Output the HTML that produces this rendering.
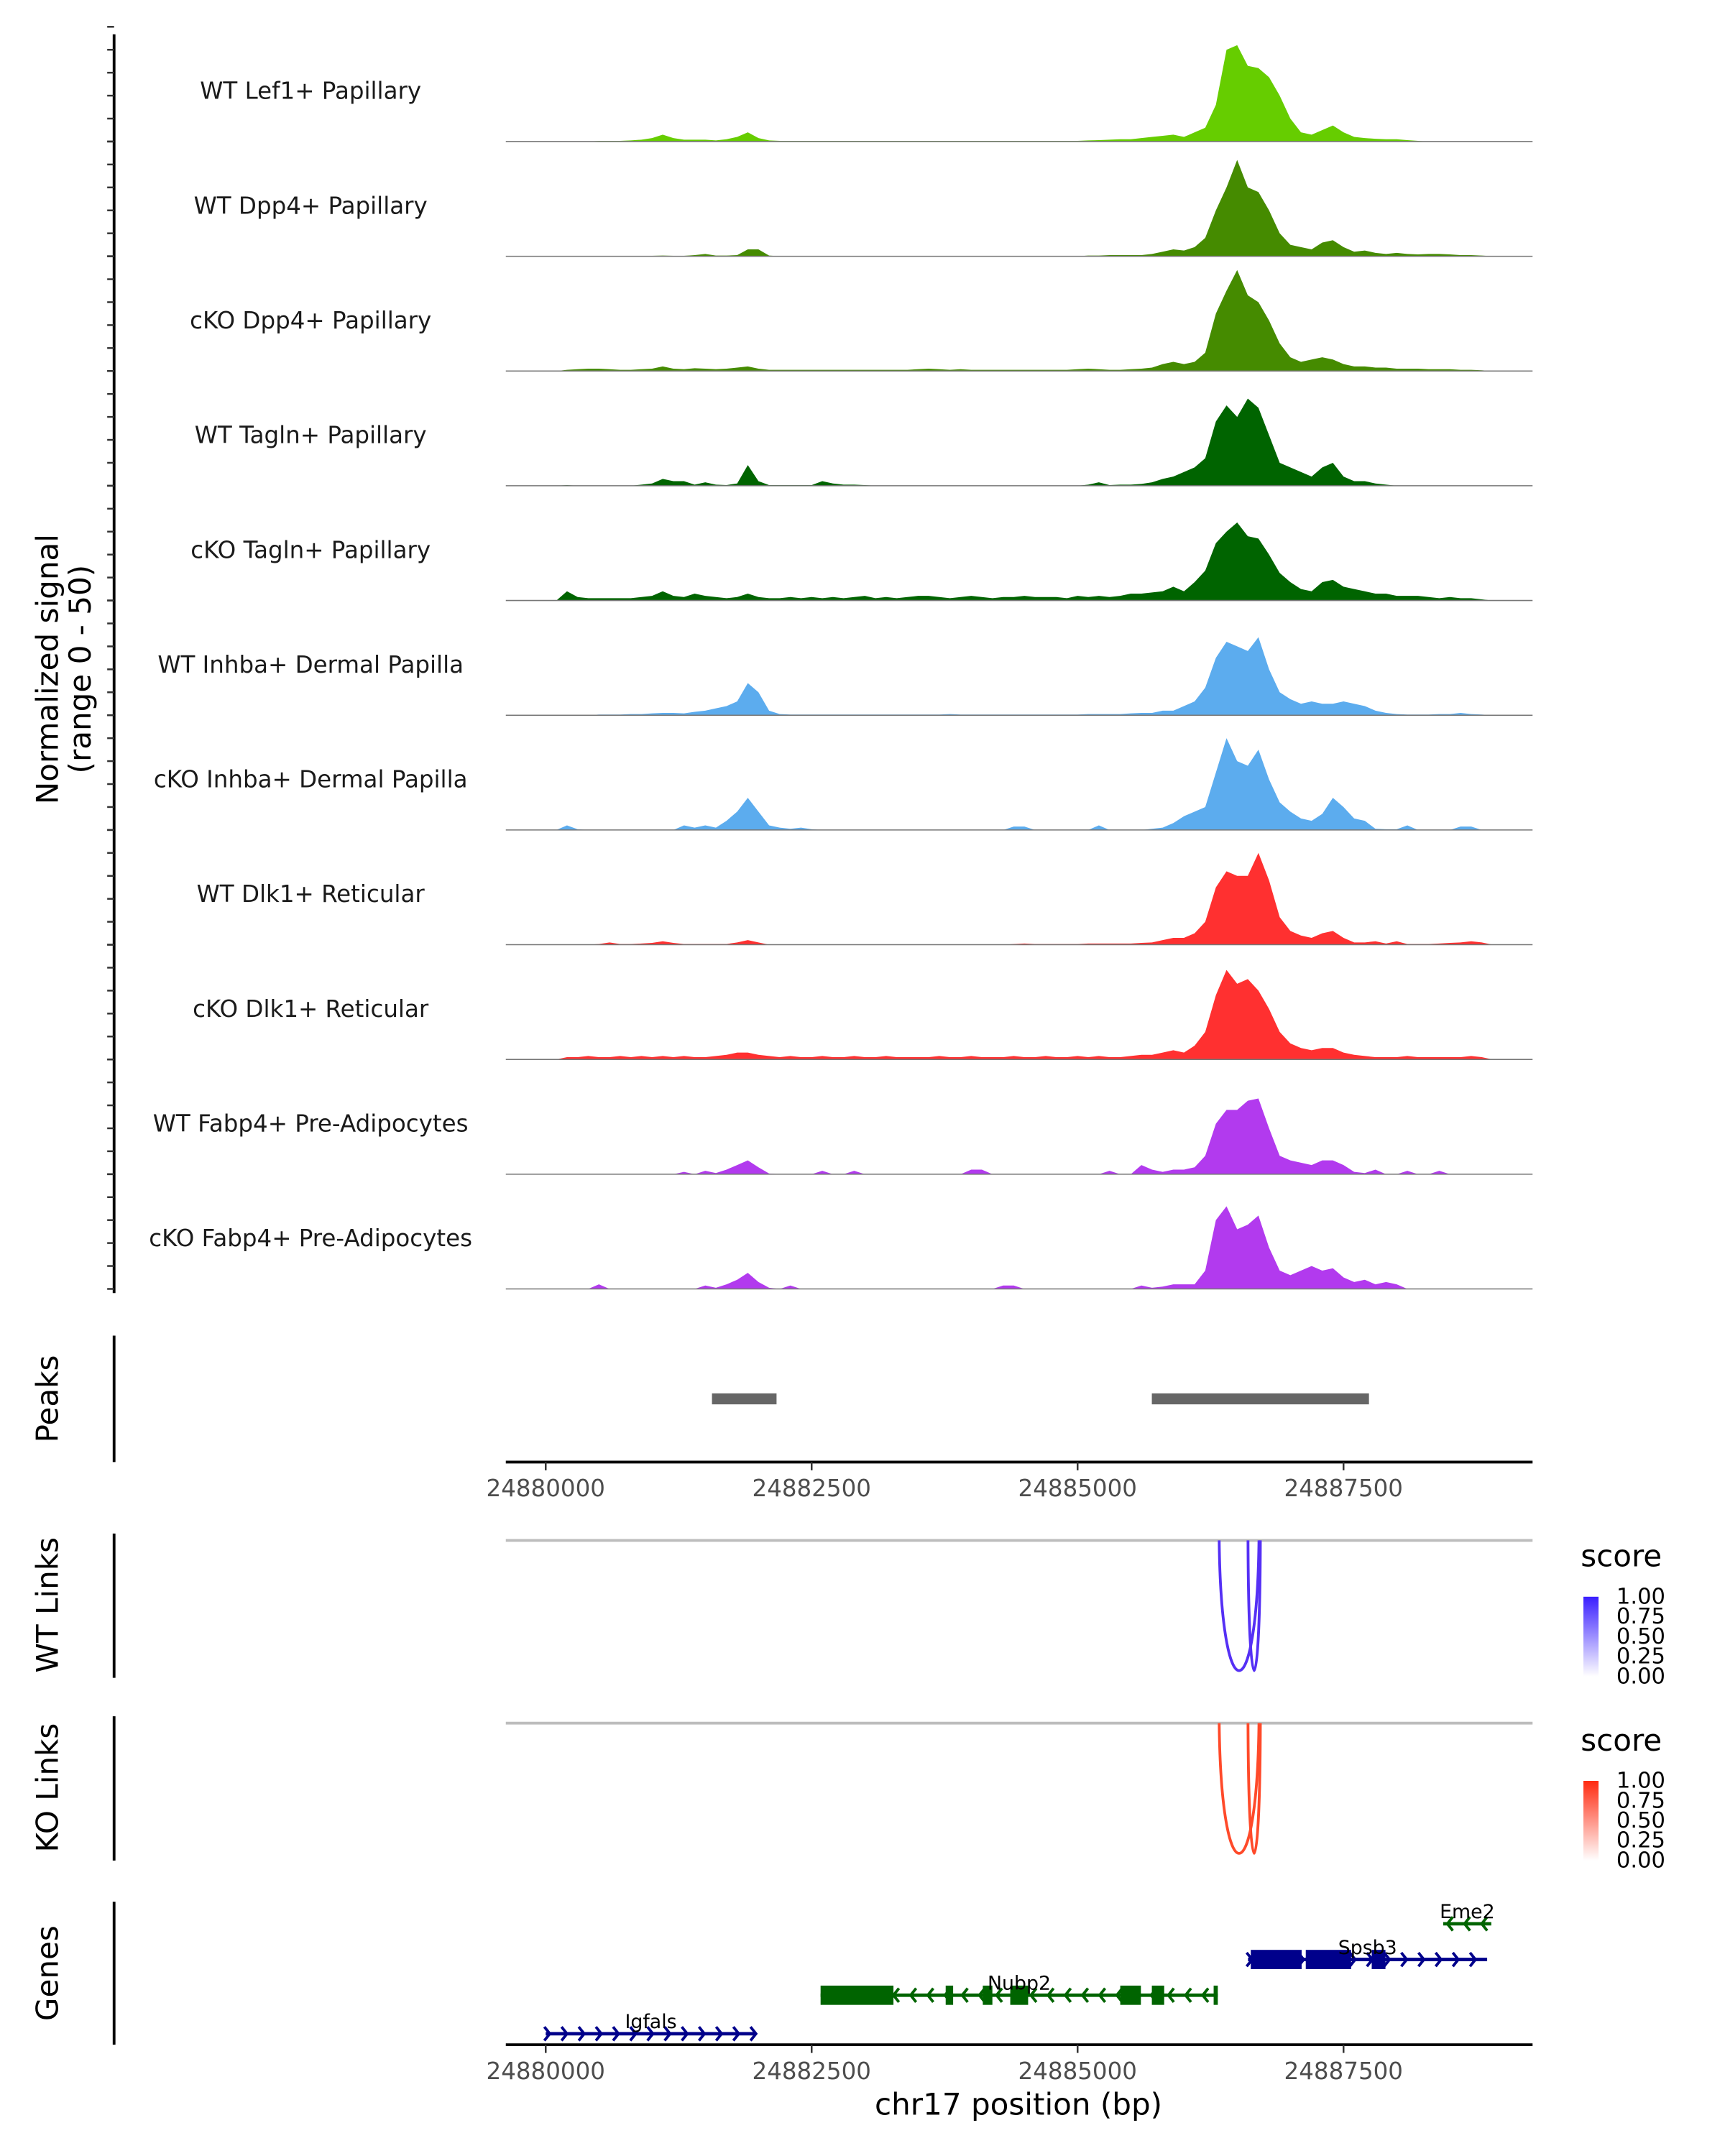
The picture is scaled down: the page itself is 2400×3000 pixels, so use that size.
<!DOCTYPE html>
<html><head><meta charset="utf-8"><style>
html,body{margin:0;padding:0;background:#fff;}
svg{display:block;}
text{font-family:"DejaVu Sans","Liberation Sans",sans-serif;}
</style></head><body>
<svg id="chart" xmlns="http://www.w3.org/2000/svg" width="2400" height="3000" viewBox="0 0 1255 1569" preserveAspectRatio="none">
<g id="g"></g>
</svg>
<script>
const tracks = ["WT Lef1+ Papillary","WT Dpp4+ Papillary","cKO Dpp4+ Papillary","WT Tagln+ Papillary","cKO Tagln+ Papillary","WT Inhba+ Dermal Papilla","cKO Inhba+ Dermal Papilla","WT Dlk1+ Reticular","cKO Dlk1+ Reticular","WT Fabp4+ Pre-Adipocytes","cKO Fabp4+ Pre-Adipocytes"];
const trackColors = ["#66CD00","#458B00","#458B00","#006400","#006400","#5CACEE","#5CACEE","#FF3030","#FF3030","#B23AEE","#B23AEE"];
const binStart = 24879800, binSize = 100;
const lef1 = [0,0,0,0,0,0,0,0.3,0.3,0.3, 0.5,0.8,1.5,3,1.5,0.8,0.8,0.8,0.5,1, 2,4,1.5,0.5,0.3,0.3,0.3,0.3,0.3,0.3, 0.3,0.3,0.3,0.3,0.3,0.3,0.3,0.3,0.3,0.3, 0.3,0.3,0.3,0.3,0.3,0.3,0.3,0.3,0.3,0.3, 0.3,0.3,0.3,0.5,0.6,0.8,1,1,1.5,2, 2.5,3,2,4,6,16,40,42,33,32, 28,20,10,4,3,5,7,4,2,1.5, 1.2,1,1,0.6,0.3,0,0,0,0,0, 0,0,0,0,0,0];
const dpp4WT = [0,0,0,0,0,0,0,0,0,0, 0,0,0.2,0.3,0.2,0.2,0.5,1,0.3,0.3, 0.5,3,3,0.3,0,0,0,0,0,0, 0,0,0,0,0,0,0,0,0,0, 0,0,0,0,0,0,0,0,0,0, 0,0,0,0.3,0.3,0.5,0.5,0.5,0.5,1, 2,3,2.5,4,8,20,30,42,30,28, 20,10,5,4,3,6,7,4,2,2.5, 1.5,1,1.5,1,0.8,1,1,0.8,0.5,0.5, 0.3,0,0,0,0,0];
const dpp4KO = [0,0,0,0,0.5,0.8,1,1,0.8,0.5, 0.5,0.8,1,2,1,0.8,1.2,1,0.8,1, 1.5,2,1,0.5,0.5,0.5,0.5,0.5,0.5,0.5, 0.5,0.5,0.5,0.5,0.5,0.5,0.5,0.8,1,0.8, 0.5,0.8,0.5,0.5,0.5,0.5,0.5,0.5,0.5,0.5, 0.5,0.5,0.8,1,0.8,0.5,0.5,0.8,1,1.5, 3,4,3,4,8,25,35,44,33,30, 22,12,6,4,5,6,5,3,2,2, 1.5,1.5,1,1,1,0.8,0.8,0.8,0.5,0.5, 0.3,0,0,0,0,0];
const taglnWT = [0,0,0,0,0.3,0,0,0,0,0, 0,0.5,1,3,2,2,0.5,1.5,0.5,0.3, 1,9,2,0.3,0.3,0.3,0.3,0.3,2,1, 0.5,0.5,0.3,0,0,0,0,0,0,0, 0,0,0,0,0,0,0,0,0,0, 0,0,0,0.5,1.5,0.3,0.5,0.5,0.8,1.5, 3,4,6,8,12,28,35,30,38,34, 22,10,8,6,4,8,10,4,2,2, 1,0.5,0,0,0,0,0,0,0,0, 0,0,0,0,0,0];
const taglnKO = [0,0,0,0,4,1.5,1,1,1,1, 1,1.5,2,4,2,1.5,3,2,1.5,1, 1.5,3,1.5,1,1,1.5,1,1.5,1,1.5, 1,1.5,2,1,1.5,1,1.5,2,2,1.5, 1,1.5,2,1.5,1,1.5,1.5,2,1.5,1.5, 1.5,1,2,1.5,2,1.5,2,3,3,3.5, 4,6,4,8,13,25,30,34,28,27, 20,12,8,5,4,8,9,6,5,4, 3,3,2,2,2,1.5,1,1.5,1,1, 0.5,0,0,0,0,0];
const inhbaWT = [0,0,0,0,0,0,0,0.3,0.3,0.3, 0.5,0.5,0.8,1,1,0.8,1.5,2,3,4, 6,14,10,2,0.5,0.3,0.3,0.3,0.3,0.3, 0.3,0.3,0.3,0.3,0.3,0.3,0.3,0.3,0.3,0.3, 0.5,0.3,0.3,0.3,0.3,0.3,0.3,0.3,0.3,0.3, 0.3,0.3,0.3,0.5,0.5,0.5,0.5,0.8,1,1, 2,2,4,6,12,25,32,30,28,34, 20,10,7,5,6,5,5,6,5,4, 2,1,0.5,0.3,0.3,0.3,0.5,0.5,1,0.5, 0.3,0,0,0,0,0];
const inhbaKO = [0,0,0,0,2,0.3,0,0,0,0, 0,0,0,0,0,2,1,2,1,4, 8,14,8,2,1,0.5,1,0.3,0,0, 0,0,0,0,0,0,0,0,0,0, 0,0,0,0,0,0,1.5,1.5,0,0, 0,0,0,0,2,0,0,0,0,0.5, 1,3,6,8,10,25,40,30,28,35, 22,12,8,5,4,7,14,10,5,4, 0.5,0.3,0.3,2,0,0,0,0,1.5,1.5, 0,0,0,0,0,0];
const dlk1WT = [0,0,0,0,0,0,0,0.3,1,0.3, 0.3,0.5,0.8,1.5,0.8,0.3,0.3,0.3,0.3,0.3, 1,2,1,0,0,0,0,0,0,0, 0,0,0,0,0,0,0,0,0,0, 0,0,0,0,0,0,0.3,0.5,0.3,0.3, 0.3,0.3,0.3,0.5,0.5,0.5,0.5,0.5,0.8,1, 2,3,3,5,10,25,32,30,30,40, 28,12,6,4,3,5,6,3,1,1, 1.5,0.5,1.5,0.3,0.3,0.3,0.5,0.8,1,1.5, 1,0,0,0,0,0];
const dlk1KO = [0,0,0,0,1,1,1.5,1,1,1.5, 1,1.5,1,1.5,1,1.5,1,1,1.5,2, 3,3,2,1.5,1,1.5,1,1,1.5,1, 1,1.5,1,1,1.5,1,1,1,1,1.5, 1,1,1.5,1,1,1,1.5,1,1,1.5, 1,1,1.5,1,1.5,1,1,1.5,2,2, 3,4,3,6,12,28,39,33,35,30, 22,12,7,5,4,5,5,3,2,1.5, 1,1,1,1.5,1,1,1,1,1,1.5, 1,0,0,0,0,0];
const fabp4WT = [0,0,0,0,0,0,0,0,0,0, 0,0,0,0,0,1,0,1.5,0.5,2, 4,6,3,0.3,0,0,0,0,1.5,0, 0,1.5,0,0,0,0,0,0,0,0, 0,0,2,2,0,0,0,0,0,0, 0,0,0,0,0,1.5,0,0,4,2, 1,2,2,3,8,22,28,28,32,33, 20,8,6,5,4,6,6,4,1,0.5, 2,0,0,1.5,0,0,1.5,0,0,0, 0,0,0,0,0,0];
const fabp4KO = [0,0,0,0,0,0,0,2,0,0, 0,0,0,0,0,0,0,1.5,0.5,2, 4,7,3,0.5,0,1.5,0,0,0,0, 0,0,0,0,0,0,0,0,0,0, 0,0,0,0,0,1.5,1.5,0,0,0, 0,0,0,0,0,0,0,0,1.5,0.5, 1,2,2,2,8,30,36,26,28,32, 18,8,6,8,10,8,9,5,3,4, 2,3,2,0,0,0,0,0,0,0, 0,0,0,0,0,0];
const signals = [lef1,dpp4WT,dpp4KO,taglnWT,taglnKO,inhbaWT,inhbaKO,dlk1WT,dlk1KO,fabp4WT,fabp4KO];
const xTicks = [24880000,24882500,24885000,24887500];
const peakStarts = [24881563,24885698];
const peakEnds = [24882170,24887739];
const linkStarts = [24886331,24886602];
const linkEnds = [24886705,24886718];
const linkScores = [1.0,1.0];
const geneNames = ["Igfals","Nubp2","Spsb3","Eme2"];
const geneStarts = [24880000,24882584,24886602,24888437];
const geneEnds = [24881977,24886318,24888850,24888889];
const geneStrands = [1,-1,1,-1];
const geneColors = ["#00008B","#006400","#00008B","#006400"];
const geneRows = [0,1,2,3];
const exonGene = [1,1,1,1,1,1,1,2,2,2];
const exonStarts = [24882584,24883760,24884109,24884367,24885401,24885698,24886279,24886628,24887145,24887765];
const exonEnds = [24883269,24883830,24884199,24884535,24885595,24885814,24886318,24887106,24887571,24887894];
const legendTicks = ["1.00","0.75","0.50","0.25","0.00"];

const NS="http://www.w3.org/2000/svg";
const g=document.getElementById('g');
function mk(tag,attrs,parent){const e=document.createElementNS(NS,tag);for(const k in attrs)e.setAttribute(k,attrs[k]);(parent||g).appendChild(e);return e;}
const X0=368,X1=1115,D0=24879625,D1=24889277;
function xs(bp){return X0+(bp-D0)/(D1-D0)*(X1-X0);}
const base0=103,trackH=83.5,yMax=50;
function ys(v,base){return base-v/yMax*trackH;}

let ax=mk('line',{x1:83,y1:25,x2:83,y2:941,stroke:'#000','stroke-width':2});


tracks.forEach((name,t)=>{
  const base=base0+t*trackH;
  for(let k=0;k<=5;k++){
    const tk=mk('line',{x1:78,x2:83,y1:ys(k*10,base),y2:ys(k*10,base),stroke:'#333','stroke-width':1.3});
    
    
  }
  const vals=signals[t];
  let d='M'+xs(binStart)+','+base;
  vals.forEach((v,i)=>{d+=' L'+xs(binStart+i*binSize).toFixed(2)+','+ys(v,base).toFixed(2);});
  d+=' L'+xs(binStart+(vals.length-1)*binSize)+','+base+' Z';
  const a=mk('path',{d:d,fill:trackColors[t],stroke:'none'});
  
  
  const bl=mk('line',{x1:X0,x2:X1,y1:base,y2:base,stroke:'#777','stroke-width':0.8});
  
  
  const lb=mk('text',{x:226,y:base-31,'text-anchor':'middle','font-size':17,fill:'#1a1a1a'});
  lb.textContent=name;
  
  
});
let yt=mk('text',{transform:'translate(42,487) rotate(-90)','text-anchor':'middle','font-size':22,fill:'#000'});
yt.textContent='Normalized signal';


let yt2=mk('text',{transform:'translate(66,487) rotate(-90)','text-anchor':'middle','font-size':22,fill:'#000'});
yt2.textContent='(range 0 - 50)';



function sideTitle(txt,yc,name){
  const t=mk('text',{transform:'translate(42,'+yc+') rotate(-90)','text-anchor':'middle','font-size':22,fill:'#000'});
  t.textContent=txt;
  
  
}
function vline(y1,y2,name){
  const l=mk('line',{x1:83,x2:83,y1:y1,y2:y2,stroke:'#000','stroke-width':2});
  
  
}
function xAxis(y,name){
  const l=mk('line',{x1:X0,x2:X1,y1:y,y2:y,stroke:'#000','stroke-width':2});
  
  
  xTicks.forEach(v=>{
    const tk=mk('line',{x1:xs(v),x2:xs(v),y1:y,y2:y+6,stroke:'#333','stroke-width':1.3});
    
    
    const tl=mk('text',{x:xs(v),y:y+25,'text-anchor':'middle','font-size':17,fill:'#4d4d4d'});
    tl.textContent=v;
    
    
  });
}
vline(972,1064,'peaks-axis');
sideTitle('Peaks',1018,'peaks-title');
peakStarts.forEach((s,i)=>{
  const r=mk('rect',{x:xs(s),y:1014,width:xs(peakEnds[i])-xs(s),height:8,fill:'#666'});
  
  
});
xAxis(1064,'peaks-x-axis');

function links(top,color,title,name,legendTop,gradId,c1){
  vline(top-5,top+100,name+'-axis');
  sideTitle(title,top+47,name+'-title');
  const l=mk('line',{x1:X0,x2:X1,y1:top,y2:top,stroke:'#bdbdbd','stroke-width':2});
  
  
  linkStarts.forEach((s,i)=>{
    const a=xs(s),b=xs(linkEnds[i]),depth=95*linkScores[i];
    const p=mk('path',{d:`M${a},${top} C${a+(b-a)*0.05},${top+depth*1.33} ${b-(b-a)*0.05},${top+depth*1.33} ${b},${top}`,fill:'none',stroke:color,'stroke-width':2});
    
    
  });
  const defs=mk('defs',{});
  const lg=mk('linearGradient',{id:gradId,x1:0,y1:1,x2:0,y2:0},defs);
  mk('stop',{offset:'0','stop-color':'#ffffff'},lg);
  mk('stop',{offset:'1','stop-color':c1},lg);
  const st=mk('text',{x:1150,y:legendTop,'font-size':22,fill:'#000'});
  st.textContent='score';
  
  
  const cb=mk('rect',{x:1152,y:legendTop+22,width:11,height:58,fill:'url(#'+gradId+')'});
  
  
  legendTicks.forEach((tx,i)=>{
    const ty=legendTop+22+i*14.5;
    const tl=mk('text',{x:1176,y:ty+5,'font-size':16,fill:'#000'});
    tl.textContent=tx;
    
    
  });
}
links(1121,'#5530F5','WT Links','wt-links',1140,'gb','#3A1FFF');
links(1254,'#FF4A2A','KO Links','ko-links',1274,'gr','#FF2A10');

vline(1384,1488,'genes-axis');
sideTitle('Genes',1436,'genes-title');
const rowY=[1480,1452,1426,1400];
geneNames.forEach((n,i)=>{
  const y=rowY[geneRows[i]],a=xs(geneStarts[i]),b=xs(geneEnds[i]),c=geneColors[i];
  const l=mk('line',{x1:a,x2:b,y1:y,y2:y,stroke:c,'stroke-width':2.5});
  
  
  for(let x=a+3;x<=b;x+=12.5){
    const dx=geneStrands[i]*4;
    const ch=mk('path',{d:`M${x-dx},${y-5} L${x},${y} L${x-dx},${y+5}`,fill:'none',stroke:c,'stroke-width':2});
    
    
  }
});
exonStarts.forEach((s,i)=>{
  const gi=exonGene[i],y=rowY[geneRows[gi]];
  const r=mk('rect',{x:xs(s),y:y-7,width:Math.max(3,xs(exonEnds[i])-xs(s)),height:14,fill:geneColors[gi]});
  
  
});
geneNames.forEach((n,i)=>{
  const y=rowY[geneRows[i]];
  const lb=mk('text',{x:(xs(geneStarts[i])+xs(geneEnds[i]))/2,y:y-4,'text-anchor':'middle','font-size':14,fill:'#000'});
  lb.textContent=n;
  
  
});
xAxis(1488,'genes-x-axis');
const xt=mk('text',{x:741,y:1539,'text-anchor':'middle','font-size':22,fill:'#000'});
xt.textContent='chr17 position (bp)';


</script>
</body></html>
